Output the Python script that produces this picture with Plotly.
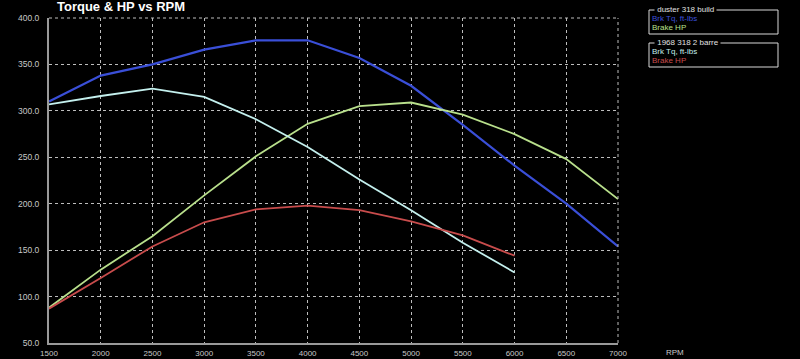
import plotly.graph_objects as go

rpm = [1500, 2000, 2500, 3000, 3500, 4000, 4500, 5000, 5500, 6000, 6500, 7000]
duster_tq = [310, 338, 350, 366, 376, 376, 357, 327, 285, 241, 200, 154]
duster_hp = [88, 129, 165, 209, 251, 286, 305, 309, 296, 275, 248, 205]
rpm_1968 = [1500, 2000, 2500, 3000, 3500, 4000, 4500, 5000, 5500, 6000]
old_tq = [307, 316, 324, 315, 291, 261, 226, 193, 158, 126]
old_hp = [87, 120, 154, 180, 194, 198, 193, 181, 166, 144]

C_BLUE = "#3a4fd8"
C_GREEN = "#b9e08c"
C_CYAN = "#c4f0ee"
C_RED = "#c84c4c"
GRID = "#bdbdbd"
TXT = "#c8c8c8"

fig = go.Figure()
fig.add_trace(go.Scatter(x=rpm, y=duster_tq, mode="lines", line=dict(color=C_BLUE, width=2.2)))
fig.add_trace(go.Scatter(x=rpm, y=duster_hp, mode="lines", line=dict(color=C_GREEN, width=1.8)))
fig.add_trace(go.Scatter(x=rpm_1968, y=old_tq, mode="lines", line=dict(color=C_CYAN, width=1.8)))
fig.add_trace(go.Scatter(x=rpm_1968, y=old_hp, mode="lines", line=dict(color=C_RED, width=1.8)))

L, R, T, B = 49, 182, 18, 16
W, H = 800, 359
pw, ph = W - L - R, H - T - B

def px(x):
    return (x - L) / pw

def py(y):
    return (H - B - y) / ph

fig.update_layout(
    width=W, height=H,
    margin=dict(l=L, r=R, t=T, b=B, pad=0),
    paper_bgcolor="black", plot_bgcolor="black",
    showlegend=False,
    font=dict(family="Liberation Sans, Arial", color=TXT, size=9),
)
fig.update_xaxes(
    range=[1500, 7000], tickvals=rpm, ticktext=[str(v) for v in rpm],
    showgrid=True, gridcolor=GRID, griddash="dot", gridwidth=1,
    showline=True, linecolor="#9a9a9a", linewidth=2, zeroline=False,
    ticks="", tickfont=dict(size=8, color=TXT), ticklabelstandoff=1,
    automargin=False,
)
fig.update_yaxes(
    range=[50, 400], tickvals=list(range(50, 401, 50)), tickformat=".1f",
    showgrid=True, gridcolor=GRID, griddash="dot", gridwidth=1,
    showline=True, linecolor="#9a9a9a", linewidth=2, zeroline=False,
    ticks="", tickfont=dict(size=8.5, color=TXT), ticklabelstandoff=6,
    automargin=False,
)

# dotted top and right borders
fig.add_shape(type="line", xref="paper", yref="paper", x0=0, x1=1, y0=1, y1=1,
              line=dict(color=GRID, width=1, dash="dot"))
fig.add_shape(type="line", xref="paper", yref="paper", x0=1, x1=1, y0=0, y1=1,
              line=dict(color=GRID, width=1, dash="dot"))

annots = []
annots.append(dict(text="<b>Torque &amp; HP vs RPM</b>", x=px(55), y=py(7), xref="paper", yref="paper",
                   xanchor="left", yanchor="middle", showarrow=False,
                   font=dict(size=13, color="white", family="Liberation Sans, Arial")))
annots.append(dict(text="RPM", x=px(664), y=py(353), xref="paper", yref="paper",
                   xanchor="left", yanchor="middle", showarrow=False, font=dict(size=8, color=TXT)))

boxes = [
    (10, 34, "duster 318 build", [("Brk Tq, ft-lbs", C_BLUE), ("Brake HP", C_GREEN)]),
    (43, 67, "1968 318 2 barre", [("Brk Tq, ft-lbs", C_CYAN), ("Brake HP", C_RED)]),
]
for y0, y1, title, entries in boxes:
    fig.add_shape(type="rect", xref="paper", yref="paper", x0=px(649), x1=px(778), y0=py(y1), y1=py(y0),
                  line=dict(color="#d8d8d8", width=1), fillcolor="rgba(0,0,0,0)")
    annots.append(dict(text=" " + title + " ", x=px(654), y=py(y0), xref="paper", yref="paper",
                       xanchor="left", yanchor="middle", showarrow=False, bgcolor="black",
                       borderpad=0, font=dict(size=8, color="#e0e0e0")))
    for i, (lab, col) in enumerate(entries):
        annots.append(dict(text=lab, x=px(650), y=py(y0 + 8.5 + 9 * i), xref="paper", yref="paper",
                           xanchor="left", yanchor="middle", showarrow=False,
                           font=dict(size=8, color=col)))
fig.update_layout(annotations=annots)

fig.write_html("out.html")
